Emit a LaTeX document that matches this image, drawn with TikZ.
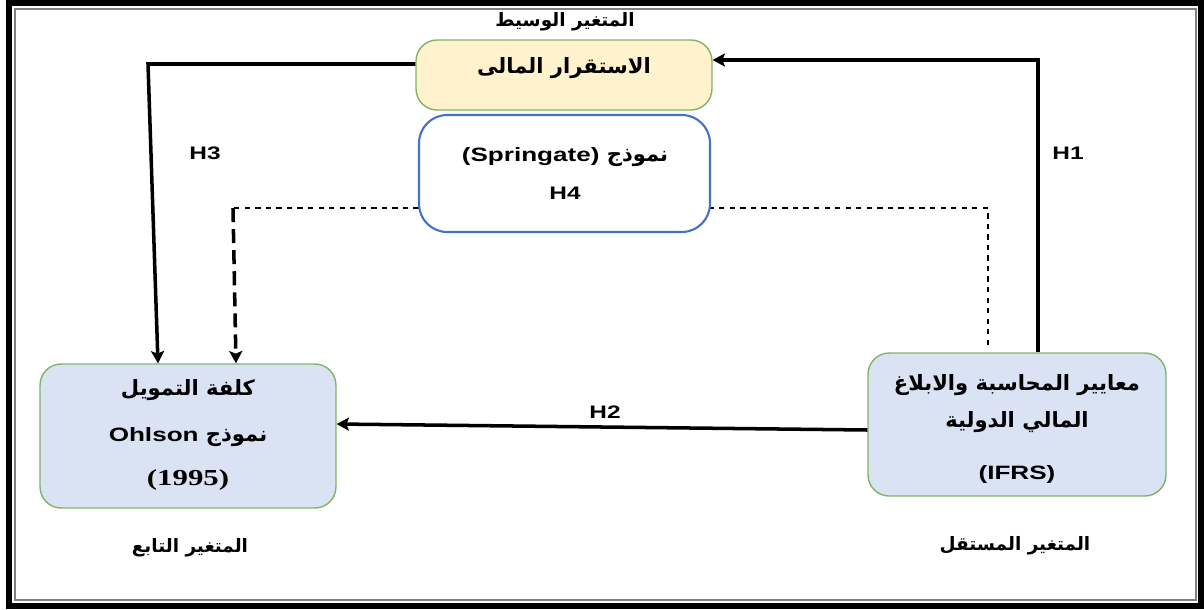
\documentclass[tikz,border=0pt]{standalone}
\usepackage{fontspec}
\usetikzlibrary{arrows.meta}
\setmainfont[FakeStretch=1.35]{Liberation Sans}
\newfontfamily\arabicfont[Script=Arabic]{DejaVu Sans}
\newfontfamily\yearfont[FakeStretch=1.35]{Liberation Serif}
\TeXXeTstate=1
\newcommand{\artext}[1]{{\arabicfont\bfseries\beginR #1\endR}}
\newcommand{\lat}[1]{\beginL{\rmfamily\bfseries\fontsize{11}{13}\selectfont #1}\endL}
\definecolor{boxgreen}{RGB}{130,179,102}
\definecolor{boxyellow}{RGB}{255,242,204}
\definecolor{boxblue}{RGB}{218,227,243}
\definecolor{modelblue}{RGB}{68,114,196}
\begin{document}
\begin{tikzpicture}[x=0.02cm,y=-0.02cm,>={Stealth[length=7pt,width=7.5pt,inset=1.5pt]},
		box/.style={draw=boxgreen,line width=0.8pt,rounded corners=12pt,inner sep=0},
		arr/.style={->,line width=2pt},
		hyp/.style={font=\bfseries\fontsize{10.3}{12}\selectfont},
		lbl/.style={font=\fontsize{10.5}{12}\selectfont},
		txt/.style={font=\fontsize{12}{14}\selectfont}]
		\useasboundingbox (0,0) rectangle (1204,609);
		\draw[line width=3.4pt] (9,3) rectangle (1201,606);
		\draw[gray,line width=0.6pt] (15,9) rectangle (1196,600);
		% boxes
		\node[box,fill=boxyellow,minimum width=5.92cm,minimum height=1.4cm] (y) at (564,75) {};
		\node[box,fill=boxblue,minimum width=5.92cm,minimum height=2.88cm] (l) at (188,436) {};
		\node[box,fill=boxblue,minimum width=5.96cm,minimum height=2.86cm] (r) at (1017,424.5) {};
		% H4, drawn before the model box
		\coordinate (d1) at (988,345);
		\coordinate (d2) at (233,208);
		\draw[dashed,line width=0.6pt] (d1) |- (d2);
		\draw[arr,dash pattern=on 8pt off 4pt] (d2) -- ([xshift=0.96cm]l.north);
		\node[draw=modelblue,fill=white,line width=1.2pt,rounded corners=16pt,minimum width=5.82cm,minimum height=2.34cm] (m) at (564.5,173.5) {};
		% H1, H2, H3
		\draw[arr] ([xshift=0.42cm]r.north) |- ([yshift=0.3cm]y.east);
		\coordinate (h3) at (148,64);
		\draw[arr] ([yshift=0.22cm]y.west) -- (h3) -- ([xshift=-0.6cm]l.north);
		\draw[arr] ([yshift=-0.11cm]r.west) -- ([yshift=0.24cm]l.east);
		% texts
		\node[lbl] (tm) at (565,22) {\artext{المتغير الوسيط}};
		\node[txt] (ty) at (564,68) {\artext{الاستقرار المالى}};
		\node[txt] (tm1) at (565,157) {\artext{نموذج \lat{(Springate)}}};
		\node[hyp] (t4) at (565,193) {H4};
		\node[hyp] (t1) at (1068,153) {H1};
		\node[hyp] (t2) at (605,412) {H2};
		\node[hyp] (t3) at (205,153) {H3};
		\node[txt] (tl1) at (188,390) {\artext{كلفة التمويل}};
		\node[txt] (tl2) at (188,437) {\artext{نموذج \lat{Ohlson}}};
		\node[font=\yearfont\bfseries\fontsize{13}{15}\selectfont] (tl3) at (188,480) {(1995)};
		\node[font=\bfseries\fontsize{11}{13}\selectfont] (tr3) at (1017,474) {(IFRS)};
		\node[txt] (tr1) at (1017,385) {\artext{معايير المحاسبة والابلاغ}};
		\node[txt] (tr2) at (1017,422) {\artext{المالي الدولية}};
		\node[lbl] (tb1) at (190,548) {\artext{المتغير التابع}};
		\node[lbl] (tb2) at (1015,546) {\artext{المتغير المستقل}};
	\end{tikzpicture}
\end{document}
